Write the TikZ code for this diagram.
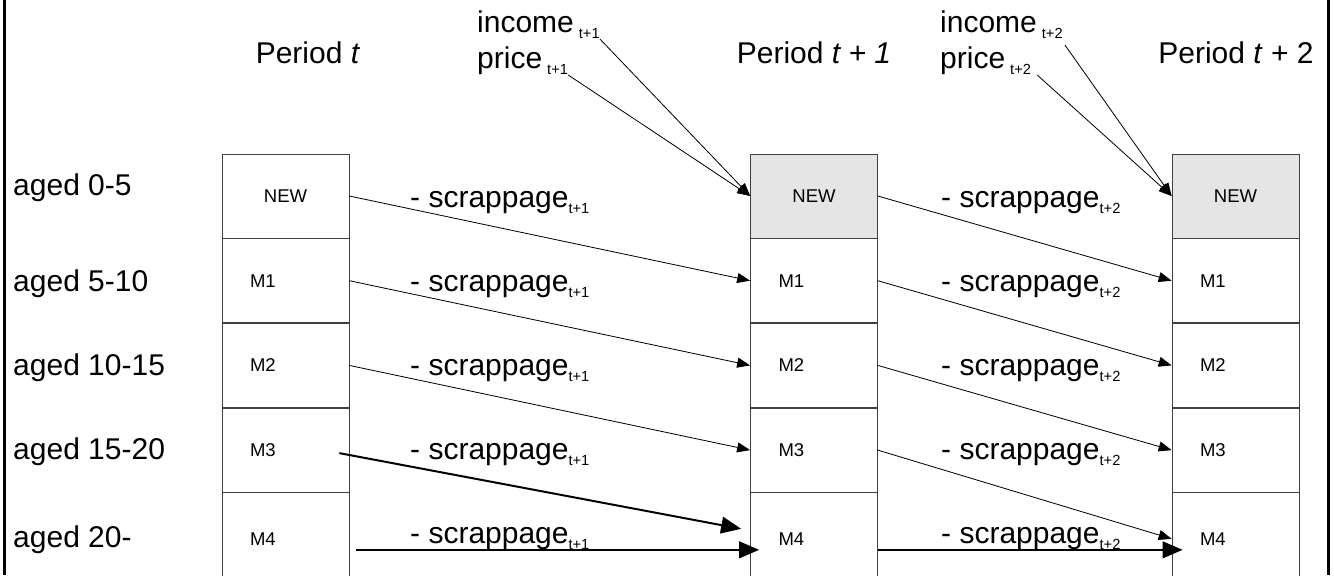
\documentclass[tikz,border=0pt]{standalone}
\usepackage{fontspec}
\setmainfont{Liberation Sans}
\usetikzlibrary{calc,arrows,arrows.meta,positioning}

\newcommand{\lowidx}[1]{\raisebox{-0.2cm}{\fontsize{12.5}{13}\selectfont #1}}

\begin{document}
\begin{tikzpicture}[x=0.03cm,y=-0.03cm,font=\fontsize{25.6}{28}\selectfont]
\tikzstyle{cell} = [draw=black!75, line width=0.6pt, minimum width=3.81cm, minimum height=2.52cm, inner xsep=0.84cm, inner ysep=0pt, text width=2.13cm, font=\fontsize{15.8}{16}\selectfont]
\tikzstyle{lastcell} = [minimum height=2.76cm]
\tikzstyle{txt} = [anchor=base west, inner sep=0pt]
\tikzstyle{flow} = [line width=0.7pt, -{Triangle[length=0.39cm,width=0.3cm]}]
\tikzstyle{bigflow} = [line width=1.7pt, -{Triangle[length=0.6cm,width=0.5cm]}]
    \useasboundingbox (0,0) rectangle (1334,575);
    \clip (0,0) rectangle (1334,575);
    % period t
    \node[cell,align=center] (tNew) at (285.5,196) {NEW};
    \node[cell,below=0pt of tNew] (tM1) {M1};
    \node[cell,below=0pt of tM1] (tM2) {M2};
    \node[cell,below=0pt of tM2] (tM3) {M3};
    \node[cell,lastcell,below=0pt of tM3] (tM4) {M4};
    % period t+1
    \node[cell,align=center,fill=black!10] (uNew) at (814,196) {NEW};
    \node[cell,below=0pt of uNew] (uM1) {M1};
    \node[cell,below=0pt of uM1] (uM2) {M2};
    \node[cell,below=0pt of uM2] (uM3) {M3};
    \node[cell,lastcell,below=0pt of uM3] (uM4) {M4};
    % period t+2
    \node[cell,align=center,fill=black!10] (vNew) at (1235.5,196) {NEW};
    \node[cell,below=0pt of vNew] (vM1) {M1};
    \node[cell,below=0pt of vM1] (vM2) {M2};
    \node[cell,below=0pt of vM2] (vM3) {M3};
    \node[cell,lastcell,below=0pt of vM3] (vM4) {M4};

    \node[anchor=base] (perT) at (308,63) {Period \textit{t}};
    \node[anchor=base] (perU) at (814,63) {Period \textit{t + 1}};
    \node[anchor=base] (perV) at (1236,63) {Period \textit{t} + 2};

    \node[txt] (incU) at (477,32) {income\,\lowidx{t+1}};
    \node[txt] (priU) at (477,68) {price\,\lowidx{t+1}};
    \node[txt] (incV) at (940,32) {income\,\lowidx{t+2}};
    \node[txt] (priV) at (940,68) {price\,\lowidx{t+2}};

    \node[txt] (age0) at (13,195) {aged 0-5};
    \node[txt] (age5) at (13,291) {aged 5-10};
    \node[txt] (age10) at (13,375) {aged 10-15};
    \node[txt] (age15) at (13,459) {aged 15-20};
    \node[txt] (age20) at (13,547) {aged 20-};

    \node[txt] (scrU1) at (410,207) {- scrappage\lowidx{t+1}};
    \node[txt] (scrU2) at (410,291) {- scrappage\lowidx{t+1}};
    \node[txt] (scrU3) at (410,375) {- scrappage\lowidx{t+1}};
    \node[txt] (scrU4) at (410,459) {- scrappage\lowidx{t+1}};
    \node[txt] (scrU5) at (410,543) {- scrappage\lowidx{t+1}};
    \node[txt] (scrV1) at (941,207) {- scrappage\lowidx{t+2}};
    \node[txt] (scrV2) at (941,291) {- scrappage\lowidx{t+2}};
    \node[txt] (scrV3) at (941,375) {- scrappage\lowidx{t+2}};
    \node[txt] (scrV4) at (941,459) {- scrappage\lowidx{t+2}};
    \node[txt] (scrV5) at (941,543) {- scrappage\lowidx{t+2}};

    \draw[flow] (incU.south east) -- (uNew.west);
    \draw[flow] (priU.south east) -- (uNew.west);
    \draw[flow] ($(incV.south east)+(2,6)$) -- (vNew.west);
    \draw[flow] ($(priV.south east)+(6,0)$) -- (vNew.west);

    \draw[flow] (tNew.east) -- (uM1.west);
    \draw[flow] (tM1.east) -- (uM2.west);
    \draw[flow] (tM2.east) -- (uM3.west);
    \draw[bigflow] ($(tM3.east)+(-10,3)$) -- ($(uM4.west)+(-9,-10)$);
    \draw[bigflow] ($(tM4.east)+(7,11)$) -- ($(uM4.west)+(9,11)$);
    \draw[flow] (uNew.east) -- (vM1.west);
    \draw[flow] (uM1.east) -- (vM2.west);
    \draw[flow] (uM2.east) -- (vM3.west);
    \draw[flow] (uM3.east) -- (vM4.west);
    \draw[bigflow] ($(uM4.east)+(0,11)$) -- ($(vM4.west)+(11,11)$);

    \draw[line width=0.09cm] (4.5,0) -- (4.5,575);
    \draw[line width=0.09cm] (1328,0) -- (1328,575);
\end{tikzpicture}
\end{document}
